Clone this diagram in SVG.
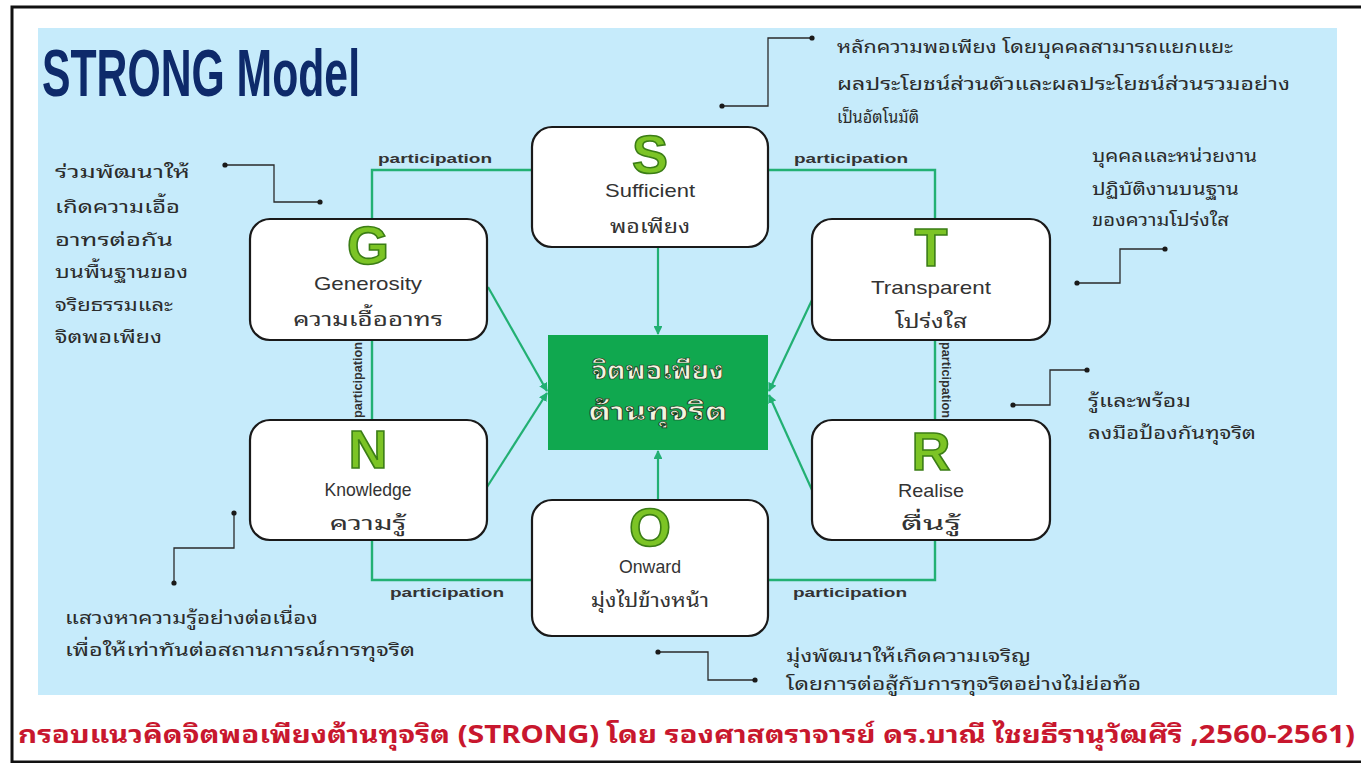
<svg xmlns="http://www.w3.org/2000/svg" width="1361" height="763" viewBox="0 0 1361 763">
<defs>
<style>
.th{font-family:"Noto Sans Thai Looped","Noto Serif Thai","Loma","Garuda","Norasi","Noto Sans Thai","Noto Sans","DejaVu Sans",sans-serif}
.ann{font-size:18px;fill:#2b2b2b}
.box{fill:#ffffff;stroke:#1a1a1a;stroke-width:2.2}
.let{font-family:"Liberation Sans",Arial,sans-serif;font-weight:bold;font-size:54px;fill:#7cc425;stroke:#3b7d16;stroke-width:1.6;text-anchor:middle}
.en{font-family:"Liberation Sans",Arial,sans-serif;font-size:19px;fill:#333;text-anchor:middle}
.tl{font-size:20px;fill:#333;text-anchor:middle}
.frame{fill:none;stroke:#22b073;stroke-width:2.4}
.arr{fill:none;stroke:#22b073;stroke-width:2.2;marker-end:url(#ah)}
.part{font-family:"Liberation Sans",Arial,sans-serif;font-weight:bold;font-size:13px;fill:#333}
.lead{fill:none;stroke:#2a2a2a;stroke-width:1.3}
.dot{fill:#1a1a1a}
</style>
<marker id="ah" viewBox="0 0 10 10" refX="9" refY="5" markerWidth="4" markerHeight="4" orient="auto">
<path d="M0,0 L10,5 L0,10 z" fill="#22b073"/>
</marker>
</defs>
<rect x="0" y="0" width="1361" height="763" fill="#ffffff"/>
<path d="M1361,7 H12 V762 H1361" fill="none" stroke="#111" stroke-width="3"/>
<rect x="38" y="28" width="1299" height="667" fill="#c6ebfb"/>
<text x="42" y="96" font-family="Liberation Sans,Arial,sans-serif" font-weight="bold" font-size="66" fill="#0e2a6a" textLength="318" lengthAdjust="spacingAndGlyphs">STRONG Model</text>

<g id="connectors">
<path class="frame" d="M372,219 V170 H532"/>
<path class="frame" d="M768,170 H935 V219"/>
<path class="frame" d="M935,340 V420"/>
<path class="frame" d="M935,540 V580 H768"/>
<path class="frame" d="M532,580 H372 V540"/>
<path class="frame" d="M372,420 V340"/>
<path class="arr" d="M658,247 V334"/>
<path class="arr" d="M658,500 V451"/>
<path class="arr" d="M488,287 L547,391"/>
<path class="arr" d="M487,487 L547,393"/>
<path class="arr" d="M812,300 L769,391"/>
<path class="arr" d="M812,490 L769,395"/>
<text class="part" x="378" y="163" textLength="114" lengthAdjust="spacingAndGlyphs">participation</text>
<text class="part" x="794" y="163" textLength="114" lengthAdjust="spacingAndGlyphs">participation</text>
<text class="part" x="390" y="597" textLength="114" lengthAdjust="spacingAndGlyphs">participation</text>
<text class="part" x="793" y="597" textLength="114" lengthAdjust="spacingAndGlyphs">participation</text>
<text class="part" font-size="11" transform="translate(362,418) rotate(-90)" textLength="76" lengthAdjust="spacingAndGlyphs">participation</text>
<text class="part" font-size="11" transform="translate(942,342) rotate(90)" textLength="76" lengthAdjust="spacingAndGlyphs">participation</text>
</g>

<g id="leaders">
<path class="lead" d="M722,106 H768 V38 H812"/><circle class="dot" cx="722" cy="106" r="2.6"/><circle class="dot" cx="812" cy="38" r="2.6"/>
<path class="lead" d="M225,165 H274 V202 H320"/><circle class="dot" cx="225" cy="165" r="2.6"/><circle class="dot" cx="320" cy="202" r="2.6"/>
<path class="lead" d="M1077,283 H1120 V249 H1165"/><circle class="dot" cx="1077" cy="283" r="2.6"/><circle class="dot" cx="1165" cy="249" r="2.6"/>
<path class="lead" d="M1013,405 H1050 V370 H1087"/><circle class="dot" cx="1013" cy="405" r="2.6"/><circle class="dot" cx="1087" cy="370" r="2.6"/>
<path class="lead" d="M234,513 V548 H174 V583"/><circle class="dot" cx="234" cy="513" r="2.6"/><circle class="dot" cx="174" cy="583" r="2.6"/>
<path class="lead" d="M658,652 H708 V680 H755"/><circle class="dot" cx="658" cy="652" r="2.6"/><circle class="dot" cx="755" cy="680" r="2.6"/>
</g>

<g id="ann-s" class="th ann">
<text x="837" y="53" textLength="396" lengthAdjust="spacingAndGlyphs">หลักความพอเพียง โดยบุคคลสามารถแยกแยะ</text>
<text x="837" y="90" textLength="453" lengthAdjust="spacingAndGlyphs">ผลประโยชน์ส่วนตัวและผลประโยชน์ส่วนรวมอย่าง</text>
<text x="837" y="123" textLength="82" lengthAdjust="spacingAndGlyphs">เป็นอัตโนมัติ</text>
</g>
<g id="ann-g" class="th ann">
<text x="55" y="178" textLength="135" lengthAdjust="spacingAndGlyphs">ร่วมพัฒนาให้</text>
<text x="55" y="213" textLength="125" lengthAdjust="spacingAndGlyphs">เกิดความเอื้อ</text>
<text x="55" y="246" textLength="118" lengthAdjust="spacingAndGlyphs">อาทรต่อกัน</text>
<text x="55" y="278" textLength="133" lengthAdjust="spacingAndGlyphs">บนพื้นฐานของ</text>
<text x="55" y="311" textLength="118" lengthAdjust="spacingAndGlyphs">จริยธรรมและ</text>
<text x="55" y="343" textLength="107" lengthAdjust="spacingAndGlyphs">จิตพอเพียง</text>
</g>
<g id="ann-t" class="th ann">
<text x="1092" y="162" textLength="165" lengthAdjust="spacingAndGlyphs">บุคคลและหน่วยงาน</text>
<text x="1092" y="195" textLength="147" lengthAdjust="spacingAndGlyphs">ปฏิบัติงานบนฐาน</text>
<text x="1092" y="226" textLength="137" lengthAdjust="spacingAndGlyphs">ของความโปร่งใส</text>
</g>
<g id="ann-r" class="th ann">
<text x="1088" y="407" textLength="103" lengthAdjust="spacingAndGlyphs">รู้และพร้อม</text>
<text x="1088" y="439" textLength="168" lengthAdjust="spacingAndGlyphs">ลงมือป้องกันทุจริต</text>
</g>
<g id="ann-n" class="th ann">
<text x="65" y="624" textLength="253" lengthAdjust="spacingAndGlyphs">แสวงหาความรู้อย่างต่อเนื่อง</text>
<text x="65" y="656" textLength="350" lengthAdjust="spacingAndGlyphs">เพื่อให้เท่าทันต่อสถานการณ์การทุจริต</text>
</g>
<g id="ann-o" class="th ann">
<text x="786" y="662" textLength="245" lengthAdjust="spacingAndGlyphs">มุ่งพัฒนาให้เกิดความเจริญ</text>
<text x="786" y="690" textLength="355" lengthAdjust="spacingAndGlyphs">โดยการต่อสู้กับการทุจริตอย่างไม่ย่อท้อ</text>
</g>

<g id="node-s">
<rect class="box" x="532" y="127" width="236" height="120" rx="20"/>
<text class="let" x="650" y="173">S</text>
<text class="en" x="650" y="197" textLength="90" lengthAdjust="spacingAndGlyphs">Sufficient</text>
<text class="th tl" x="650" y="233" textLength="80" lengthAdjust="spacingAndGlyphs">พอเพียง</text>
</g>
<g id="node-g">
<rect class="box" x="250" y="219" width="237" height="121" rx="20"/>
<text class="let" x="368" y="264">G</text>
<text class="en" x="368" y="290" textLength="108" lengthAdjust="spacingAndGlyphs">Generosity</text>
<text class="th tl" x="368" y="326" textLength="150" lengthAdjust="spacingAndGlyphs">ความเอื้ออาทร</text>
</g>
<g id="node-t">
<rect class="box" x="812" y="219" width="238" height="121" rx="20"/>
<text class="let" x="931" y="266">T</text>
<text class="en" x="931" y="294" textLength="120" lengthAdjust="spacingAndGlyphs">Transparent</text>
<text class="th tl" x="931" y="328" textLength="72" lengthAdjust="spacingAndGlyphs">โปร่งใส</text>
</g>
<g id="node-n">
<rect class="box" x="250" y="420" width="237" height="120" rx="20"/>
<text class="let" x="368" y="468">N</text>
<text class="en" x="368" y="496" textLength="87" lengthAdjust="spacingAndGlyphs">Knowledge</text>
<text class="th tl" x="368" y="530" textLength="77" lengthAdjust="spacingAndGlyphs">ความรู้</text>
</g>
<g id="node-r">
<rect class="box" x="812" y="420" width="238" height="120" rx="20"/>
<text class="let" x="931" y="470">R</text>
<text class="en" x="931" y="497" textLength="66" lengthAdjust="spacingAndGlyphs">Realise</text>
<text class="th tl" x="931" y="530" textLength="60" lengthAdjust="spacingAndGlyphs">ตื่นรู้</text>
</g>
<g id="node-o">
<rect class="box" x="532" y="500" width="236" height="136" rx="20"/>
<text class="let" x="650" y="546">O</text>
<text class="en" x="650" y="573" textLength="62" lengthAdjust="spacingAndGlyphs">Onward</text>
<text class="th tl" x="650" y="607" textLength="118" lengthAdjust="spacingAndGlyphs">มุ่งไปข้างหน้า</text>
</g>
<g id="node-center">
<rect x="548" y="335" width="220" height="115" fill="#10a84f"/>
<text class="th" x="658" y="379" font-size="24" font-weight="bold" fill="#f4f4e0" stroke="#1b3a1b" stroke-width="0.7" text-anchor="middle" textLength="132" lengthAdjust="spacingAndGlyphs">จิตพอเพียง</text>
<text class="th" x="658" y="420" font-size="24" font-weight="bold" fill="#f4f4e0" stroke="#1b3a1b" stroke-width="0.7" text-anchor="middle" textLength="139" lengthAdjust="spacingAndGlyphs">ต้านทุจริต</text>
</g>

<text class="th" x="18" y="743" font-size="25" font-weight="bold" fill="#c8172e" textLength="1337" lengthAdjust="spacingAndGlyphs">กรอบแนวคิดจิตพอเพียงต้านทุจริต (STRONG) โดย รองศาสตราจารย์ ดร.บาณี ไชยธีรานุวัฒศิริ ,2560-2561)</text>
</svg>
